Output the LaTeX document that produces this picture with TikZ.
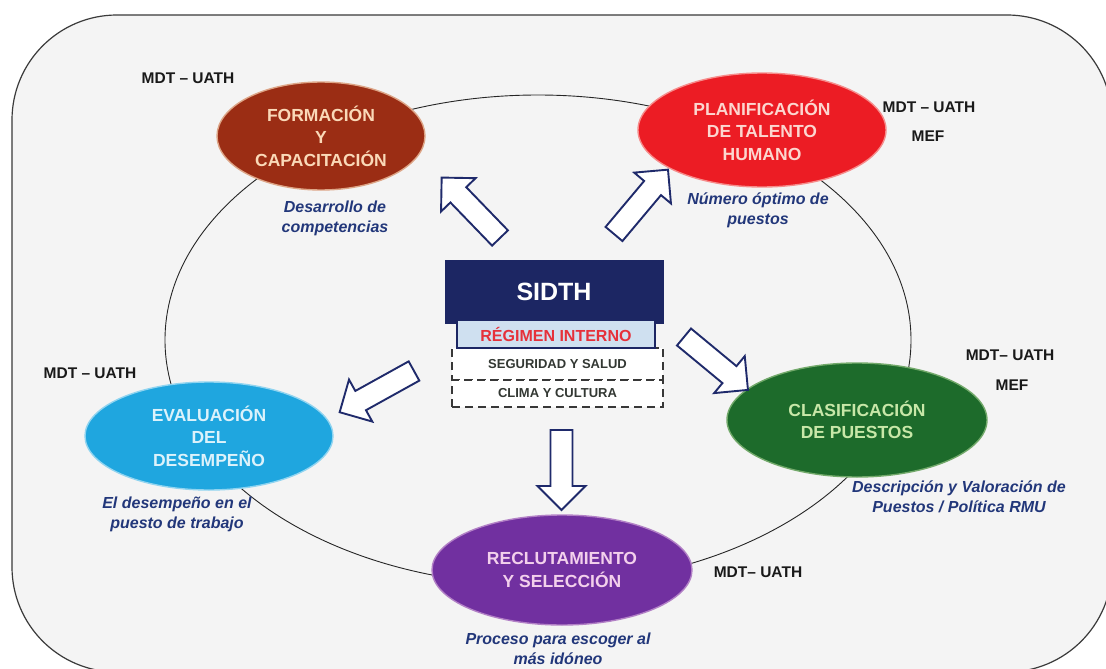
\documentclass[tikz,border=0pt]{standalone}
\usepackage{fontspec}
\setmainfont{Liberation Sans}
\usetikzlibrary{shapes.geometric}

\definecolor{panelfill}{HTML}{F4F4F4}
\definecolor{panelline}{HTML}{3A3A3A}
\definecolor{navy}{HTML}{1C2663}
\definecolor{arrowline}{HTML}{1F2A6B}
\definecolor{noteblue}{HTML}{22377A}
\definecolor{formfill}{HTML}{9B2D14}
\definecolor{formtext}{HTML}{FAD9B8}
\definecolor{planfill}{HTML}{EC1C24}
\definecolor{plantext}{HTML}{FCD6CF}
\definecolor{clasfill}{HTML}{1D6B2B}
\definecolor{clastext}{HTML}{C8E7A8}
\definecolor{evalfill}{HTML}{1FA6DF}
\definecolor{evaltext}{HTML}{DCF2FB}
\definecolor{reclfill}{HTML}{7130A0}
\definecolor{recltext}{HTML}{F3D0EC}
\definecolor{regfill}{HTML}{CFE0F0}
\definecolor{regtext}{HTML}{E6303A}
\definecolor{boxtext}{HTML}{333833}

\tikzset{
  panel/.style={fill=panelfill, draw=panelline, line width=1.2pt, rounded corners=105pt},
  ring/.style={draw=black!85, line width=0.9pt},
  proc/.style={ellipse, inner sep=0pt, align=center, line width=1.4pt,
    font=\bfseries\fontsize{17.5}{22.5}\selectfont},
  note/.style={align=center, text=noteblue,
    font=\bfseries\itshape\fontsize{16}{20}\selectfont},
  mdt/.style={text=black!90, font=\bfseries\fontsize{15.5}{19}\selectfont},
  sidthbox/.style={fill=navy, draw=navy, text=white, minimum width=218pt,
    minimum height=63pt, inner sep=0pt, font=\bfseries\fontsize{25}{30}\selectfont},
  regbox/.style={fill=regfill, draw=navy, line width=1.4pt, text=regtext,
    minimum width=198pt, minimum height=28pt, inner sep=0pt,
    font=\bfseries\fontsize{16}{19}\selectfont},
  dashbox/.style={fill=white, draw=black!78, line width=1.7pt,
    dash pattern=on 8pt off 5pt, text=boxtext, minimum width=211pt, inner sep=0pt,
    font=\bfseries\fontsize{13}{16}\selectfont},
  blockarrow/.style={draw=arrowline, fill=white, line width=1.9pt, line join=miter}
}

% hollow block arrow: tail coordinate, direction angle, total length
\newcommand\hollowarrow[3]{%
  \begin{scope}[shift={(#1)}, rotate=#2]
    \draw[blockarrow] (0,-11) -- ({#3-24},-11) -- ({#3-24},-24) -- (#3,0)
      -- ({#3-24},24) -- ({#3-24},11) -- (0,11) -- cycle;
  \end{scope}}

\begin{document}
\begin{tikzpicture}[x=1pt, y=-1pt]
\useasboundingbox (0,0) rectangle (1106,669);
\clip (0,0) rectangle (1106,669);
\fill[white] (0,0) rectangle (1106,669);

% rounded background panel
\draw[panel] (12,15) rectangle (1112,672);

% cycle line through the five processes
\draw[ring] (538,340) ellipse [x radius=373, y radius=245];

% processes
\node[proc, fill=formfill, draw=formtext!70!formfill, text=formtext,
  minimum width=208pt, minimum height=108pt] (form) at (321,136)
  {FORMACIÓN\\Y\\CAPACITACIÓN};
\node[proc, fill=planfill, draw=plantext!60!planfill, text=plantext,
  minimum width=248pt, minimum height=114pt] (plan) at (762,130)
  {PLANIFICACIÓN\\DE TALENTO\\HUMANO};
\node[proc, fill=clasfill, draw=clastext!50!clasfill, text=clastext,
  minimum width=260pt, minimum height=114pt] (clas) at (857,420)
  {CLASIFICACIÓN\\DE PUESTOS};
\node[proc, fill=evalfill, draw=evaltext!60!evalfill, text=evaltext,
  minimum width=248pt, minimum height=108pt] (eval) at (209,436)
  {EVALUACIÓN\\DEL\\DESEMPEÑO};
\node[proc, fill=reclfill, draw=recltext!50!reclfill, text=recltext,
  minimum width=260pt, minimum height=110pt] (recl) at (562,570)
  {RECLUTAMIENTO\\Y SELECCIÓN};

% central block
\node[sidthbox] (sidth) at (554,291.5) {SIDTH};
\node[dashbox, minimum height=32pt] (segur) at (557.5,364) {SEGURIDAD Y SALUD};
\node[dashbox, minimum height=27pt] (clima) at (557.5,393.5) {CLIMA Y CULTURA};
\node[regbox] (regim) at (556,334) {RÉGIMEN INTERNO};

% arrows out of the central block
\coordinate (tailform) at (500,238);
\coordinate (tailplan) at (614,234);
\coordinate (tailclas) at (684,337);
\coordinate (taileval) at (414,371);
\coordinate (tailrecl) at (561.5,430);
\hollowarrow{tailform}{134}{84}
\hollowarrow{tailplan}{50}{84}
\hollowarrow{tailclas}{-39.6}{83}
\hollowarrow{taileval}{209}{85}
\hollowarrow{tailrecl}{-90}{80}

% descriptions
\node[note] (nform) at (335,218) {Desarrollo de\\competencias};
\node[note] (nplan) at (758,210) {Número óptimo de\\puestos};
\node[note] (nclas) at (959,497) {Descripción y Valoración de\\Puestos / Política RMU};
\node[note] (neval) at (177,514) {El desempeño en el\\puesto de trabajo};
\node[note] (nrecl) at (558,649) {Proceso para escoger al\\más idóneo};

% responsible institutions
\node[mdt] (mform) at (188,78) {MDT – UATH};
\node[mdt] (mplan) at (929,107) {MDT – UATH};
\node[mdt] (mplanb) at (928,136) {MEF};
\node[mdt] (mclas) at (1010,355) {MDT– UATH};
\node[mdt] (mclasb) at (1012,385) {MEF};
\node[mdt] (meval) at (90,373) {MDT – UATH};
\node[mdt] (mrecl) at (758,572) {MDT– UATH};
\end{tikzpicture}
\end{document}
